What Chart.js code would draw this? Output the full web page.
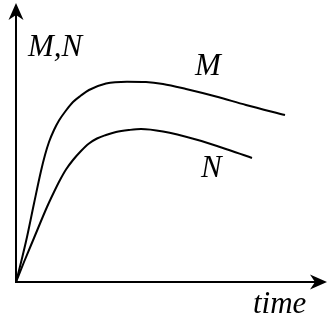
<!DOCTYPE html>
<html>
<head>
<meta charset="utf-8">
<script src="https://cdn.jsdelivr.net/npm/chart.js@4/dist/chart.umd.min.js"></script>
<style>
html,body{margin:0;padding:0;background:#fff;}
</style>
</head>
<body>
<canvas id="c" width="328" height="324"></canvas>
<script>
// Values (arbitrary units: time from origin, level above the time axis)
const timeM   = [0, 4, 11, 18, 25, 29, 33, 38, 43, 50, 57, 65, 73, 90, 111, 130, 147, 170, 200, 230, 269];
const seriesM = [0, 15.5, 45, 78.5, 111, 127, 140, 152, 161.5, 171.5, 180, 186.5, 192, 198.5, 200.3, 200, 198, 193, 185.5, 177, 167];
const timeN   = [0, 8, 18, 31, 38, 44, 50, 57, 65, 73, 81, 90, 100, 113, 125, 147, 180, 213, 236];
const seriesN = [0, 20, 44, 75, 90, 102, 112.5, 122, 131, 138.5, 143.5, 147, 150, 152, 153, 150.5, 142.5, 132, 124];
const xMax = 311, yMax = 279;
const axisTitleY = "M,N";
const axisTitleX = "time";
const curveLabels = [
  {text: "M", x: 179, y: 207},
  {text: "N", x: 185, y: 105}
];

const toPts = (xs, ys) => xs.map((t, i) => ({x: t, y: ys[i]}));

const FONT = 'italic 31px "Liberation Serif", "Times New Roman", serif';

const axesPlugin = {
  id: 'axesArrows',
  beforeDatasetsDraw(chart) {
    const {ctx, scales: {x, y}} = chart;
    const ox = x.getPixelForValue(0), oy = y.getPixelForValue(0);
    const top = y.getPixelForValue(yMax), right = x.getPixelForValue(xMax);
    ctx.save();
    ctx.strokeStyle = '#000';
    ctx.fillStyle = '#000';
    ctx.lineWidth = 2;
    ctx.beginPath();
    ctx.moveTo(ox, oy + 1); ctx.lineTo(ox, top + 10);
    ctx.moveTo(ox - 1, oy); ctx.lineTo(right - 10, oy);
    ctx.stroke();
    ctx.beginPath();
    ctx.moveTo(ox, top);
    ctx.lineTo(ox + 7.5, top + 17);
    ctx.lineTo(ox, top + 12);
    ctx.lineTo(ox - 7.5, top + 17);
    ctx.closePath();
    ctx.fill();
    ctx.beginPath();
    ctx.moveTo(right, oy);
    ctx.lineTo(right - 17, oy - 7.5);
    ctx.lineTo(right - 12, oy);
    ctx.lineTo(right - 17, oy + 7.5);
    ctx.closePath();
    ctx.fill();
    ctx.restore();
  },
  afterDatasetsDraw(chart) {
    const {ctx, scales: {x, y}} = chart;
    ctx.save();
    ctx.fillStyle = '#000';
    ctx.font = FONT;
    ctx.textBaseline = 'alphabetic';
    ctx.textAlign = 'left';
    const ox = x.getPixelForValue(0), oy = y.getPixelForValue(0);
    ctx.fillText(axisTitleY, ox + 12, 56);
    ctx.fillText(axisTitleX, x.getPixelForValue(xMax) - 74, oy + 31);
    curveLabels.forEach(l => {
      ctx.fillText(l.text, x.getPixelForValue(l.x), y.getPixelForValue(l.y));
    });
    ctx.restore();
  }
};

new Chart(document.getElementById('c'), {
  type: 'scatter',
  data: {
    datasets: [
      {label: 'M', data: toPts(timeM, seriesM), showLine: true, borderColor: '#000', borderWidth: 2, pointRadius: 0, cubicInterpolationMode: 'monotone', fill: false, clip: false},
      {label: 'N', data: toPts(timeN, seriesN), showLine: true, borderColor: '#000', borderWidth: 2, pointRadius: 0, cubicInterpolationMode: 'monotone', fill: false, clip: false}
    ]
  },
  options: {
    responsive: false,
    animation: false,
    layout: {padding: {left: 16, top: 3, right: 1, bottom: 42}},
    scales: {
      x: {type: 'linear', min: 0, max: xMax, display: false},
      y: {type: 'linear', min: 0, max: yMax, display: false}
    },
    plugins: {legend: {display: false}, tooltip: {enabled: false}}
  },
  plugins: [axesPlugin]
});
</script>
</body>
</html>
